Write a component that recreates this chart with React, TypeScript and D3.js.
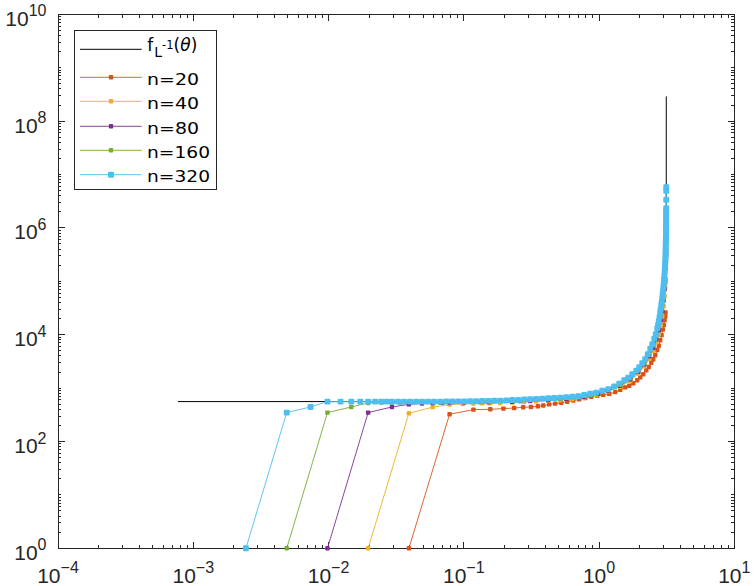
import * as d3 from "d3";

// exact curve f_L^{-1}(theta)
const thetaExact = [7.72e-4, 0.01, 0.05, 0.1, 0.2, 0.3, 0.5, 0.7, 0.9, 1.1, 1.4, 1.7, 2.0, 2.3, 2.5, 2.7, 2.85, 2.95, 3.03, 3.08, 3.11, 3.13, 3.138, 3.1405, 3.1414];
const fExact = [559, 559, 560, 565, 586, 612, 660, 705, 800, 916, 1200, 1690, 2530, 4300, 7100, 13400, 28700, 55000, 112000, 205000, 405000, 1.07e6, 2.4e6, 6e6, 2.9e8];

// n = 20
const theta20 = [0.0393, 0.0785, 0.1178, 0.1571, 0.1963, 0.2356, 0.2749, 0.3142, 0.3534, 0.3867, 0.4281, 0.4743, 0.5254, 0.5819, 0.6446, 0.7139, 0.7905, 0.8756, 0.9698, 1.074, 1.19, 1.318, 1.435, 1.562, 1.673, 1.791, 1.917, 2.017, 2.123, 2.234, 2.331, 2.433, 2.517, 2.604, 2.695, 2.765, 2.836, 2.9, 2.96, 3.011, 3.052, 3.088, 3.1];
const f20 = [1, 323, 396, 401, 413, 424, 437, 443, 456, 472, 495, 513, 531, 556, 583, 614, 650, 687, 721, 746, 779, 841, 929, 1030, 1109, 1236, 1400, 1593, 1813, 2144, 2483, 2978, 3460, 4113, 5165, 6223, 7854, 9836, 12470, 15000, 18600, 22100, 26000];

// n = 40
const theta40 = [0.01963, 0.03927, 0.0589, 0.0785, 0.0982, 0.1178, 0.1374, 0.1571, 0.1858, 0.228, 0.2797, 0.3431, 0.4209, 0.5164, 0.6335, 0.7771, 0.9534, 1.17, 1.435, 1.703, 1.951, 2.159, 2.35, 2.517, 2.65, 2.765, 2.86, 2.935, 3.002, 3.052, 3.088, 3.11];
const f40 = [1, 337, 440, 490, 505, 512, 517, 520, 524, 535, 548, 562, 579, 596, 620, 667, 739, 871, 1057, 1370, 1853, 2559, 3540, 5000, 7210, 10170, 15000, 22100, 34000, 52400, 77200, 95000];

// n = 80
const theta80 = [0.00982, 0.01963, 0.02945, 0.03927, 0.04909, 0.0589, 0.0687, 0.0785, 0.1007, 0.1515, 0.228, 0.3097, 0.4209, 0.572, 0.7771, 0.9865, 1.17, 1.435, 1.703, 1.951, 2.159, 2.35, 2.517, 2.65, 2.765, 2.86, 2.935, 3.002, 3.052, 3.088, 3.12, 3.135, 3.138];
const f80 = [1, 348, 443, 497, 515, 525, 530, 533, 538, 545, 552, 571, 596, 628, 690, 782, 898, 1104, 1462, 2018, 2790, 3942, 5687, 8200, 12080, 18600, 27400, 44000, 70800, 109000, 175000, 307000, 370000];

// n = 160
const theta160 = [0.00491, 0.00982, 0.01473, 0.01963, 0.02454, 0.02945, 0.03385, 0.0669, 0.1322, 0.2614, 0.5164, 0.8607, 1.17, 1.435, 1.703, 1.951, 2.159, 2.35, 2.517, 2.65, 2.765, 2.86, 2.935, 3.002, 3.052, 3.088, 3.12, 3.135, 3.1395];
const f160 = [1, 348, 443, 525, 535, 538, 538, 538, 541, 568, 630, 739, 929, 1153, 1540, 2154, 2978, 4296, 6330, 9340, 14360, 23100, 37100, 62200, 104000, 175000, 307000, 586000, 1.15e6];

// n = 320
const theta320 = [
  0.00245, 0.00491, 0.00736, 0.00982, 0.01227, 0.01473, 0.01718, 0.01963, 0.02209, 0.02454, 0.027, 0.02945,
  0.0327, 0.0362, 0.0401, 0.0445, 0.0492, 0.0545, 0.0604, 0.0669, 0.0741, 0.0821, 0.0909, 0.1007, 0.1115, 0.1235, 0.1368, 0.1515, 0.1678, 0.1858, 0.2058, 0.228, 0.2525, 0.2797, 0.3097, 0.3431, 0.38, 0.4209, 0.4662, 0.5164, 0.572, 0.6335, 0.7017, 0.7771, 0.8607, 0.9534,
  1.056, 1.17, 1.295, 1.411, 1.536, 1.644, 1.761, 1.884, 1.983, 2.087, 2.196, 2.292, 2.392, 2.475, 2.561, 2.627, 2.695, 2.732, 2.765, 2.803, 2.836, 2.86, 2.885, 2.91, 2.935, 2.954, 2.975, 2.995, 3.011, 3.026, 3.042, 3.057, 3.068, 3.078, 3.088,
  3.095, 3.1, 3.104, 3.108, 3.112, 3.115, 3.118, 3.121, 3.124, 3.126, 3.128, 3.13, 3.1315, 3.133, 3.1345, 3.136, 3.137, 3.138, 3.139, 3.14, 3.1405,
];
const f320 = [
  1, 348, 443, 559, 559, 559, 559, 559, 559, 559, 559, 559,
  559, 559, 559, 559, 559, 559, 559, 559, 561, 562, 563, 565, 566, 569, 573, 576, 580, 583, 590, 597, 603, 610, 617, 626, 635, 645, 654, 664, 677, 690, 704, 743, 782, 824,
  890, 958, 1071, 1214, 1400, 1573, 1813, 2127, 2453, 2914, 3491, 4296, 5445, 6607, 8451, 10170, 13180, 15300, 17820, 21600, 26250, 30550, 35530, 41300, 48100, 57100, 67800, 78900, 91800, 106700, 124000, 147500, 175000, 199500, 227000,
  258000, 294000, 334000, 381000, 433000, 493000, 561000, 639000, 727000, 828000, 942000, 1.07e6, 1.22e6, 1.39e6, 1.58e6, 1.8e6, 2.05e6, 2.33e6, 3.36e6, 4.96e6, 5.76e6,
];

const legendLabels = ["n=20", "n=40", "n=80", "n=160", "n=320"];
const xTickExps = [-4, -3, -2, -1, 0, 1];
const yTickExps = [0, 2, 4, 6, 8, 10];

const seriesTheta = [theta20, theta40, theta80, theta160, theta320];
const seriesF = [f20, f40, f80, f160, f320];
const seriesColors = ["#D95319", "#EDB120", "#7E2F8E", "#77AC30", "#4DBEEE"];
const markerSide = [4.4, 4.4, 4.4, 4.4, 5.9];

const W = 755;
const H = 586;
const L = 58;
const R = 734.3;
const T = 14.3;
const B = 548.3;
const axisColor = "#262626";
const tickFont = "'Liberation Sans', Arial, sans-serif";
const legendFont = "'DejaVu Sans', sans-serif";

const x = d3.scaleLog().domain([1e-4, 10]).range([L, R]);
const y = d3.scaleLog().domain([1, 1e10]).range([B, T]);

function pts(ts: number[], fs: number[]): [number, number][] {
  const n = Math.min(ts.length, fs.length);
  return d3.range(n).map((i) => [x(ts[i]), y(fs[i])] as [number, number]);
}

const line = d3.line<[number, number]>().x((d) => d[0]).y((d) => d[1]);

function minorTicks(lo: number, hi: number) {
  const out: number[] = [];
  for (let e = lo; e < hi; e++) {
    for (let k = 2; k <= 9; k++) out.push(k * Math.pow(10, e));
  }
  return out;
}

function Exp({ e }: { e: number }) {
  return <tspan dy={-9.5} fontSize={16}>{e < 0 ? "\u2212" + Math.abs(e) : String(e)}</tspan>;
}

function Marker({ cx, cy, s, color }: { cx: number; cy: number; s: number; color: string }) {
  return <rect x={cx - s / 2} y={cy - s / 2} width={s} height={s} rx={s * 0.2} fill={color} />;
}

export default function App() {
  const xMajor = d3.range(-4, 2).map((e) => Math.pow(10, e));
  const xMinor = minorTicks(-4, 1);
  const yAll = d3.range(0, 11);
  const yMinor = minorTicks(0, 10);
  const major = 6.8;
  const minor = 3.4;

  const rowY = [77.3, 101.3, 126.3, 150.3, 174.7];
  const labelLen = [52, 52, 52, 63, 63];

  return (
    <div style={{ position: "absolute", left: 0, top: 0 }}>
      <svg width={W} height={H} style={{ display: "block", background: "#fff" }}>
        <rect x={L} y={T} width={R - L} height={B - T} fill="#fff" />

        {/* axes and ticks */}
        <g stroke={axisColor} strokeWidth={1} shapeRendering="crispEdges">
          <rect x={L} y={T} width={R - L} height={B - T} fill="none" />
          {xMajor.map((v, i) => (
            <g key={"xM" + i}>
              <line x1={x(v)} x2={x(v)} y1={B} y2={B - major} />
              <line x1={x(v)} x2={x(v)} y1={T} y2={T + major} />
            </g>
          ))}
          {xMinor.map((v, i) => (
            <g key={"xm" + i}>
              <line x1={x(v)} x2={x(v)} y1={B} y2={B - minor} />
              <line x1={x(v)} x2={x(v)} y1={T} y2={T + minor} />
            </g>
          ))}
          {yAll.map((e) => {
            const len = yTickExps.includes(e) ? major : minor;
            const yy = y(Math.pow(10, e));
            return (
              <g key={"yM" + e}>
                <line x1={L} x2={L + len} y1={yy} y2={yy} />
                <line x1={R} x2={R - len} y1={yy} y2={yy} />
              </g>
            );
          })}
          {yMinor.map((v, i) => (
            <g key={"ym" + i}>
              <line x1={L} x2={L + minor} y1={y(v)} y2={y(v)} />
              <line x1={R} x2={R - minor} y1={y(v)} y2={y(v)} />
            </g>
          ))}
        </g>

        {/* tick labels */}
        <g fill={axisColor} fontFamily={tickFont} fontSize={21}>
          {xTickExps.map((e) => (
            <text key={"xl" + e} x={x(Math.pow(10, e))} y={582.7} textAnchor="middle">
              10<Exp e={e} />
            </text>
          ))}
          {yTickExps.map((e) => (
            <text key={"yl" + e} x={46.5} y={y(Math.pow(10, e)) + 11.5} textAnchor="end">
              10<Exp e={e} />
            </text>
          ))}
        </g>

        {/* exact curve */}
        <path d={line(pts(thetaExact, fExact)) ?? ""} fill="none" stroke="#000" strokeWidth={1} />

        {/* numerical series */}
        {seriesTheta.map((ts, s) => {
          const p = pts(ts, seriesF[s]);
          return (
            <g key={"s" + s}>
              <path d={line(p) ?? ""} fill="none" stroke={seriesColors[s]} strokeWidth={0.9} />
              {p.map((d, i) => (
                <Marker key={i} cx={d[0]} cy={d[1]} s={markerSide[s]} color={seriesColors[s]} />
              ))}
            </g>
          );
        })}

        {/* legend */}
        <g>
          <rect x={74} y={30.7} width={142.7} height={158.6} fill="#fff" stroke={axisColor} strokeWidth={1} shapeRendering="crispEdges" />
          <line x1={80} x2={141.7} y1={49.3} y2={49.3} stroke="#000" strokeWidth={1} />
          <g fontFamily={legendFont} fill="#000">
            <text x={147.3} y={50.7} fontSize={17}>f</text>
            <text x={154.3} y={57.3} fontSize={14}>L</text>
            <text x={162} y={49} fontSize={11.5}>-1</text>
            <text x={173.6} y={50.6} fontSize={17}>
              (<tspan fontStyle="italic">θ</tspan>)
            </text>
          </g>
          {legendLabels.map((lab, s) => (
            <g key={"lg" + s}>
              <line x1={80} x2={141.7} y1={rowY[s]} y2={rowY[s]} stroke={seriesColors[s]} strokeWidth={0.9} />
              <Marker cx={111} cy={rowY[s]} s={markerSide[s]} color={seriesColors[s]} />
              <text
                x={147}
                y={rowY[s] + 7.4}
                fontFamily={legendFont}
                fontSize={15.5}
                textLength={labelLen[s]}
                lengthAdjust="spacingAndGlyphs"
                fill="#000"
              >
                {lab}
              </text>
            </g>
          ))}
        </g>
      </svg>
    </div>
  );
}
